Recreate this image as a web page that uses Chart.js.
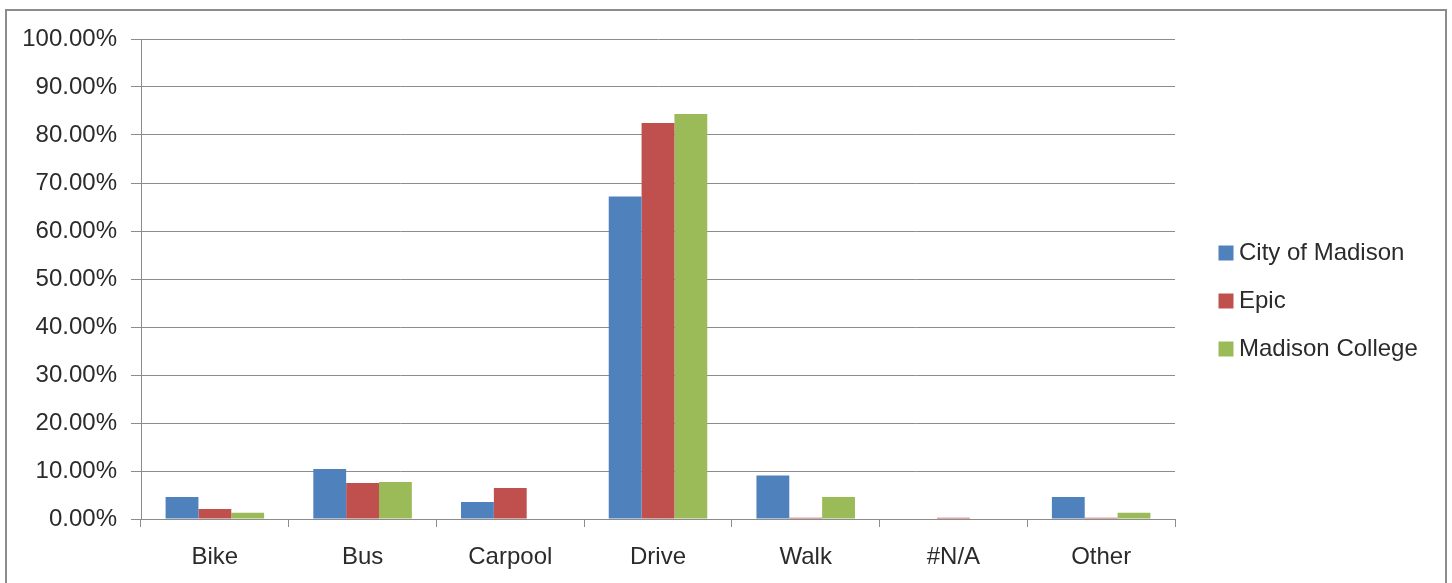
<!DOCTYPE html>
<html>
<head>
<meta charset="utf-8">
<script src="https://cdn.jsdelivr.net/npm/chart.js@4/dist/chart.umd.min.js"></script>
<style>
  html, body { margin: 0; padding: 0; background: #ffffff; overflow: hidden; }
  #wrap { position: relative; width: 1452px; height: 583px; }
  #frame { position: absolute; left: 5px; top: 9px; width: 1442px; height: 600px;
           border: 2px solid #8c8c8c; box-sizing: border-box; }
  canvas { position: absolute; left: 0; top: 0; }
</style>
</head>
<body>
<div id="wrap">
  <div id="frame"></div>
  <canvas id="c" width="1452" height="583"></canvas>
</div>
<script>
const categories = ['Bike', 'Bus', 'Carpool', 'Drive', 'Walk', '#N/A', 'Other'];
const seriesNames = ['City of Madison', 'Epic', 'Madison College'];
const cityOfMadison = [4.58, 10.42, 3.54, 67.2, 9.08, 0, 4.58];
const epic = [2.08, 7.5, 6.46, 82.5, 0.25, 0.25, 0.25];
const madisonCollege = [1.31, 7.7, 0, 84.4, 4.58, 0, 1.31];
const yTicks = [0, 10, 20, 30, 40, 50, 60, 70, 80, 90, 100];

const FONT = "'Liberation Sans', Arial, sans-serif";
const TEXT = '#2b2b2b';
const GRID = '#8c8c8c';

const legendFitPlugin = {
  id: 'legendFit',
  beforeInit(chart) {
    const lg = chart.legend;
    if (!lg) return;
    const orig = lg.fit;
    lg.fit = function () {
      orig.call(this);
      this.width = 1452 - 1175;
    };
  },
  afterLayout(chart) {
    const lg = chart.legend;
    if (!lg) return;
    lg.left += 26;
    lg.right += 26;
    lg.top -= 10;
    lg.bottom -= 10;
  }
};

new Chart(document.getElementById('c'), {
  type: 'bar',
  data: {
    labels: categories,
    datasets: [
      { label: seriesNames[0], data: cityOfMadison, backgroundColor: '#4F81BD' },
      { label: seriesNames[1], data: epic, backgroundColor: '#C0504D' },
      { label: seriesNames[2], data: madisonCollege, backgroundColor: '#9BBB59' }
    ]
  },
  options: {
    responsive: false,
    devicePixelRatio: 1,
    animation: false,
    layout: { padding: { top: 39, bottom: 0, left: 0, right: 0 } },
    datasets: { bar: { categoryPercentage: 0.667, barPercentage: 1.0, borderWidth: 0 } },
    plugins: {
      tooltip: { enabled: false },
      legend: {
        position: 'right',
        align: 'center',
        labels: {
          usePointStyle: true,
          pointStyle: 'rect',
          boxWidth: 2,
          boxHeight: 15,
          padding: 24,
          color: TEXT,
          font: { family: FONT, size: 24 }
        }
      }
    },
    scales: {
      x: {
        offset: true,
        grid: { offset: true, drawOnChartArea: false, drawTicks: true, tickLength: 8, color: GRID, lineWidth: 1 },
        border: { display: true, color: GRID, width: 1 },
        ticks: { color: TEXT, font: { family: FONT, size: 24 }, padding: 16, maxRotation: 0 },
        afterFit(scale) { scale.height = 64; }
      },
      y: {
        min: 0,
        max: 100,
        afterBuildTicks(scale) { scale.ticks = yTicks.map(v => ({ value: v })); },
        grid: { color: GRID, lineWidth: 1, tickLength: 10, drawTicks: true },
        border: { display: true, color: GRID, width: 1 },
        ticks: {
          color: TEXT,
          font: { family: FONT, size: 24 },
          padding: 14,
          callback: v => Number(v).toFixed(2) + '%'
        },
        afterFit(scale) { scale.width = 141; }
      }
    }
  },
  plugins: [legendFitPlugin]
});
</script>
</body>
</html>
